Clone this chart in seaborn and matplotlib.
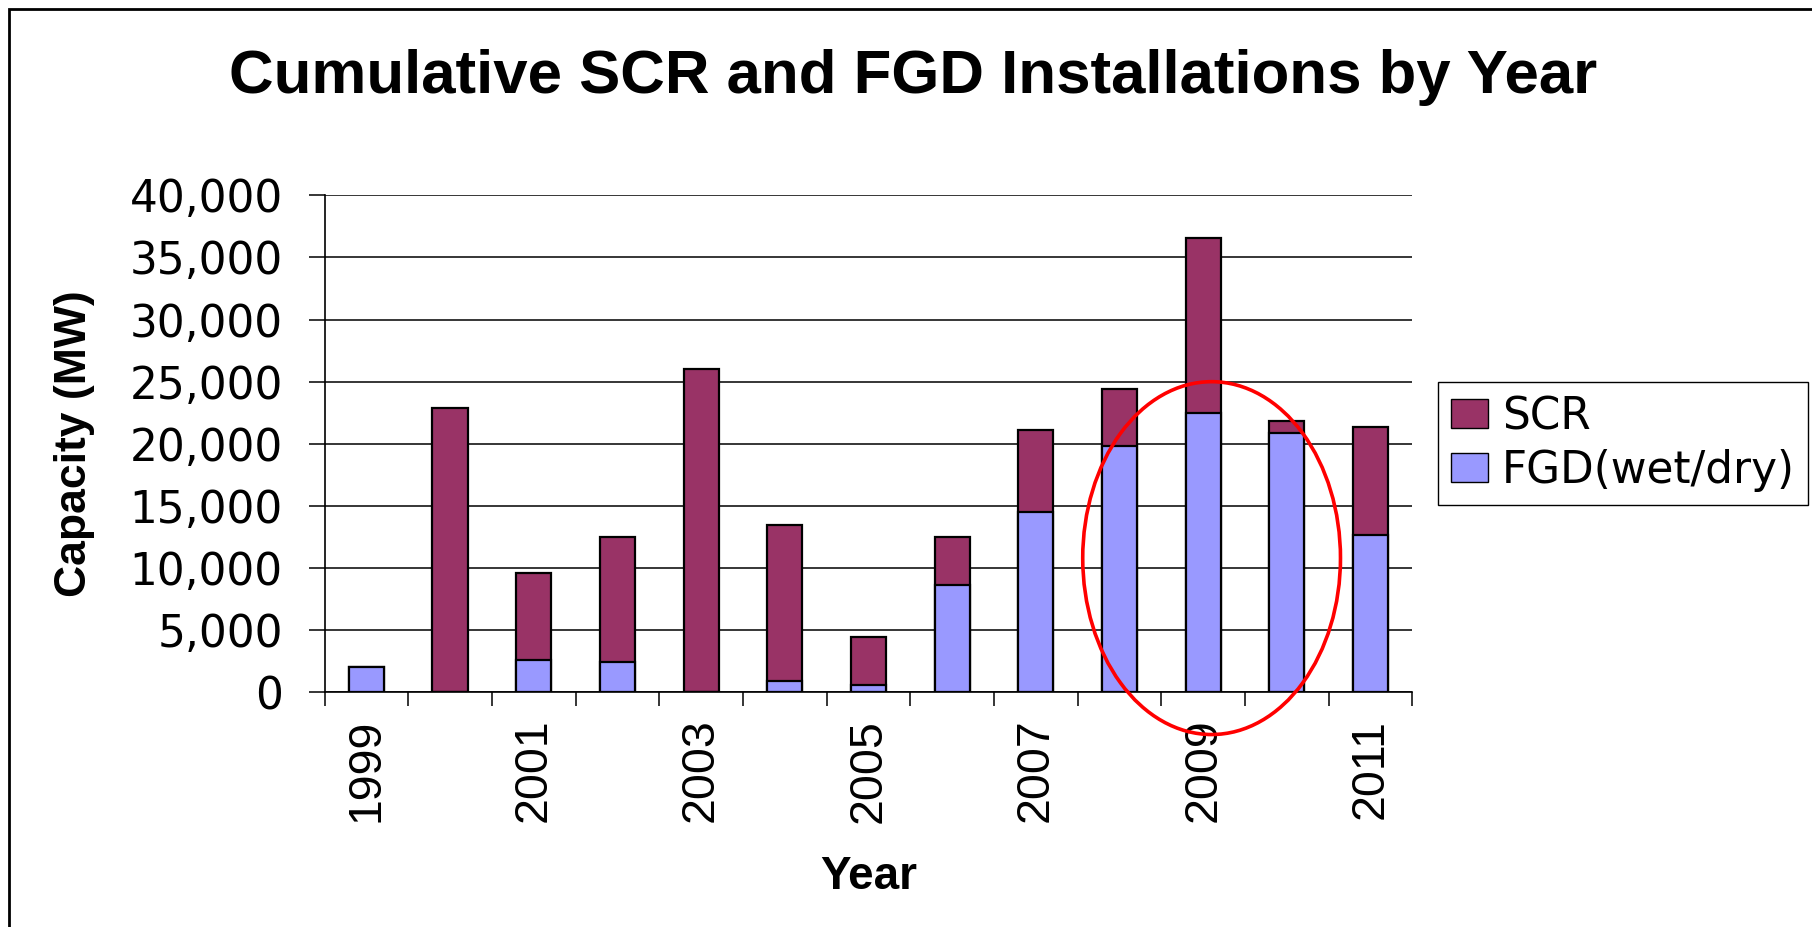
import numpy as np
import pandas as pd
import matplotlib
matplotlib.use("Agg")
import matplotlib.pyplot as plt
import seaborn as sns
from matplotlib.patches import Patch, Ellipse, Rectangle

# chart values (MW)
years = ["1999", "2000", "2001", "2002", "2003", "2004", "2005",
         "2006", "2007", "2008", "2009", "2010", "2011"]
fgd_mw = [2000, 0, 2600, 2450, 0, 900, 600, 8650, 14500, 19800, 22450, 20900, 12650]
scr_mw = [0, 22900, 7000, 10050, 26000, 12550, 3850, 3850, 6600, 4650, 14150, 950, 8700]
y_ticks = [0, 5000, 10000, 15000, 20000, 25000, 30000, 35000, 40000]
label_years = ["1999", "2001", "2003", "2005", "2007", "2009", "2011"]

title = "Cumulative SCR and FGD Installations by Year"
scr_color = "#993366"
fgd_color = "#9999FF"

# red ring drawn around 2008-2010 (data units)
ring_center = (10.1, 10800)
ring_size = (3.08, 28400)

sns.set_style("ticks")
plt.rcParams["font.family"] = ["DejaVu Sans"]
for key in ["text.color", "axes.labelcolor", "xtick.color", "ytick.color"]:
    plt.rcParams[key] = "black"

df = pd.DataFrame({"Year": years, "FGD": fgd_mw, "SCR": scr_mw})
df["Total"] = df["FGD"] + df["SCR"]

fig = plt.figure(figsize=(18.12, 9.27), dpi=100)
ax = fig.add_axes([0.1791, 0.2532, 0.6004, 0.5361])

# stacked: full height in SCR colour, FGD drawn over the lower part
sns.barplot(data=df, x="Year", y="Total", color=scr_color, saturation=1,
            edgecolor="black", linewidth=1.6, width=0.42, errorbar=None, ax=ax)
sns.barplot(data=df, x="Year", y="FGD", color=fgd_color, saturation=1,
            edgecolor="black", linewidth=1.6, width=0.42, errorbar=None, ax=ax)

ax.set_xlim(-0.5, len(years) - 0.5)
ax.set_ylim(0, 40000)
ax.yaxis.grid(True, color="black", linewidth=1.1)
ax.set_axisbelow(True)
for side in ["top", "right"]:
    ax.spines[side].set_visible(False)
for side in ["left", "bottom"]:
    ax.spines[side].set_color("black")
    ax.spines[side].set_linewidth(1.2)

# tick marks between categories, labels on every other year
bounds = np.arange(len(years) + 1) - 0.5
ax.set_xticks(bounds, [""] * len(bounds))
label_pos = [years.index(y) for y in label_years]
ax.set_xticks(label_pos, label_years, minor=True, rotation=90,
              fontfamily="Liberation Sans", fontsize=33.5)
ax.tick_params(axis="x", which="major", length=10, width=1.1, color="black", direction="out")
ax.tick_params(axis="x", which="minor", length=0, pad=19)

ax.set_yticks(y_ticks, [f"{v:,}" for v in y_ticks], fontsize=31.5)
ax.tick_params(axis="y", length=11.5, width=1.1, color="black", pad=18.6, direction="out")

ax.set_xlabel("Year", fontsize=33, fontweight="bold", fontfamily="Liberation Sans")
ax.xaxis.label.set_va("baseline")
ax.xaxis.set_label_coords(0.5, -0.3964)
ax.set_ylabel("Capacity (MW)", fontsize=32, fontweight="bold", fontfamily="Liberation Sans")
ax.yaxis.label.set_va("center")
ax.yaxis.set_label_coords(-0.230, 0.5)

fig.text(913 / 1812, 1 - 93.3 / 927, title, ha="center", va="baseline",
         fontsize=44.5, fontweight="bold", fontfamily="Liberation Sans")

handles = [Patch(facecolor=scr_color, edgecolor="black", label="SCR"),
           Patch(facecolor=fgd_color, edgecolor="black", label="FGD(wet/dry)")]
leg = fig.legend(handles=handles, loc="upper left",
                 bbox_to_anchor=(1438 / 1812, 1 - 382 / 927), bbox_transform=fig.transFigure,
                 borderaxespad=0, frameon=True, fancybox=False, edgecolor="black",
                 fontsize=31.5, handlelength=0.84, handleheight=0.65, handletextpad=0.32,
                 borderpad=0.3, labelspacing=0.25)
leg.get_frame().set_linewidth(1.0)
leg.get_frame().set_alpha(1)

ring = Ellipse(ring_center, ring_size[0], ring_size[1], fill=False,
               edgecolor="red", linewidth=2.6, clip_on=False, zorder=5)
ax.add_patch(ring)

# outer chart frame, only left and top edges fall inside the picture
frame = Rectangle((8.5 / 1812, -0.05), 1.2, 1.05 - 8.5 / 927, transform=fig.transFigure,
                  fill=False, edgecolor="black", linewidth=2)
fig.add_artist(frame)

fig.savefig("out.png", dpi=100)
